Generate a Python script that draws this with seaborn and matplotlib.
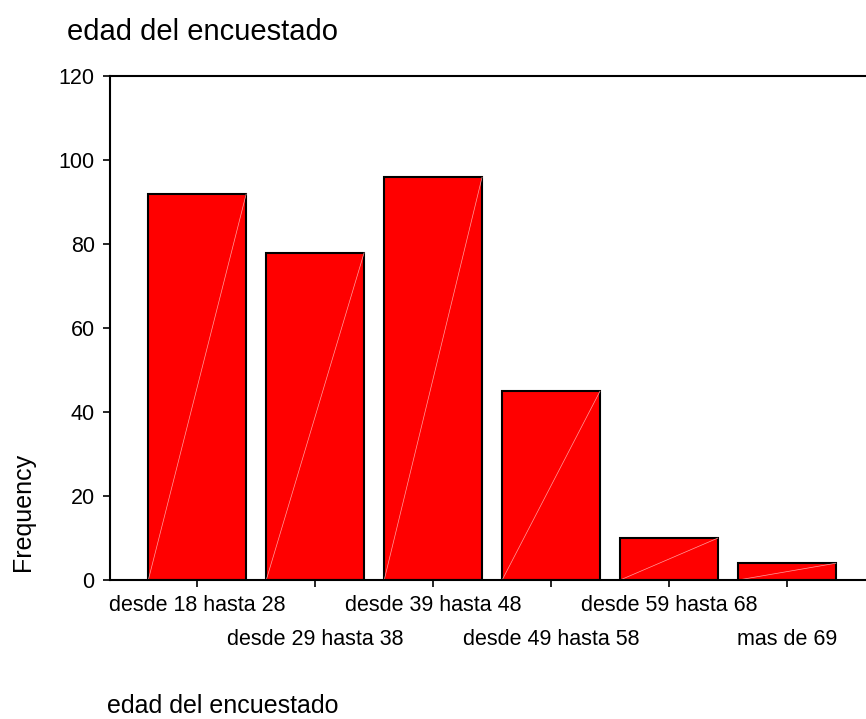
import matplotlib
matplotlib.use("Agg")
import matplotlib.pyplot as plt
import seaborn as sns

# age groups and counts
categories = ["desde 18 hasta 28", "desde 29 hasta 38", "desde 39 hasta 48",
              "desde 49 hasta 58", "desde 59 hasta 68", "mas de 69"]
frequency = [92, 78, 96, 45, 10, 4]
yticks = [0, 20, 40, 60, 80, 100, 120]

sns.set_style("white")
plt.rcParams["font.family"] = ["Liberation Sans", "DejaVu Sans"]
for key in ["text.color", "axes.labelcolor", "xtick.color", "ytick.color"]:
    plt.rcParams[key] = "black"

fig = plt.figure(figsize=(8.66, 7.19), dpi=100)
ax = fig.add_axes([0.127, 0.1933, 0.873, 0.7005])

sns.barplot(x=categories, y=frequency, color="#ff0000", saturation=1,
            edgecolor="black", linewidth=1.5, width=0.83, ax=ax)

# faint diagonal seam that the SPSS renderer leaves in each bar
for p in ax.patches:
    x0, y0 = p.get_x(), p.get_y()
    ax.plot([x0, x0 + p.get_width()], [y0, y0 + p.get_height()],
            color="#ffa0a0", lw=0.5, zorder=p.get_zorder() + 0.1)

ax.set_xlim(-0.74, 5.67)
ax.set_ylim(0, 120)
ax.set_yticks(yticks)
ax.set_xticks(range(len(categories)))
ax.set_xticklabels(categories, fontsize=15.5)
ax.tick_params(axis="y", labelsize=15.5)
ax.tick_params(direction="out", length=5, width=1.2, color="black", pad=6,
               bottom=True, left=True)

# stagger the category labels on two rows
for i, tick in enumerate(ax.xaxis.get_major_ticks()):
    if i % 2 == 1:
        tick.set_pad(30.5)

for side in ["left", "top", "bottom"]:
    ax.spines[side].set_visible(True)
    ax.spines[side].set_color("black")
    ax.spines[side].set_linewidth(1.5)
ax.spines["right"].set_visible(False)

ax.set_title("edad del encuestado", loc="left", x=-0.057, y=1.0716, pad=0,
             fontsize=21)
ax.set_xlabel("edad del encuestado", fontsize=18, loc="left")
ax.xaxis.set_label_coords(-0.004, -0.226)
ax.set_ylabel("Frequency", fontsize=18)
ax.yaxis.set_label_coords(-0.099, 0.135)

fig.savefig("out.png", dpi=100)
